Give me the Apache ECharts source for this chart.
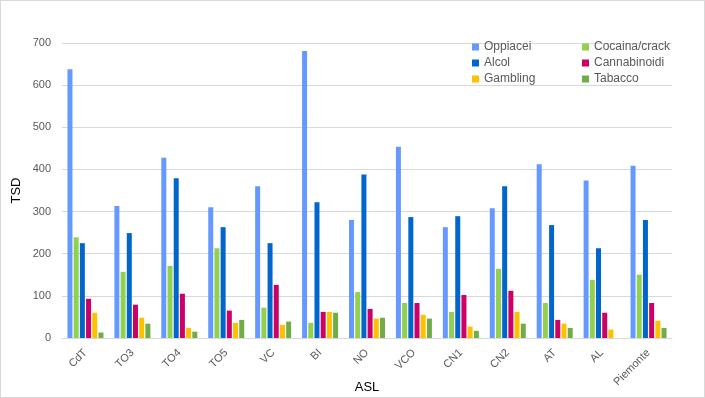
<!DOCTYPE html>
<html>
<head>
<meta charset="utf-8">
<script src="https://cdn.jsdelivr.net/npm/echarts@6/dist/echarts.min.js"></script>
<style>
  html, body { margin: 0; padding: 0; background: #fff; }
  #chart { width: 705px; height: 398px; box-sizing: border-box; border: 1px solid #d9d9d9; }
</style>
</head>
<body>
<div id="chart"></div>
<script>
// categorie (ASL)
const categories = ['CdT', 'TO3', 'TO4', 'TO5', 'VC', 'BI', 'NO', 'VCO', 'CN1', 'CN2', 'AT', 'AL', 'Piemonte']

// valori
const oppiacei     = [638, 313, 428, 310, 360, 681, 280, 454, 263, 308, 412, 374, 409]
const cocaina      = [239, 157, 171, 213, 72, 36, 109, 83, 62, 164, 83, 138, 150]
const alcol        = [225, 249, 379, 263, 225, 322, 388, 287, 289, 360, 268, 213, 280]
const cannabinoidi = [93, 79, 105, 65, 126, 62, 69, 83, 102, 112, 43, 60, 83]
const gambling     = [60, 48, 24, 36, 31, 62, 46, 55, 27, 62, 34, 20, 41]
const tabacco      = [13, 34, 15, 43, 39, 60, 48, 46, 17, 34, 24, 0, 24]

const seriesDefs = [
  { name: 'Oppiacei', data: oppiacei, color: '#6699ff' },
  { name: 'Cocaina/crack', data: cocaina, color: '#92d050' },
  { name: 'Alcol', data: alcol, color: '#0066cc' },
  { name: 'Cannabinoidi', data: cannabinoidi, color: '#cc0066' },
  { name: 'Gambling', data: gambling, color: '#ffc000' },
  { name: 'Tabacco', data: tabacco, color: '#70ad47' }
]

const font = 'Liberation Sans, Arial, sans-serif'
const legendBase = {
  orient: 'vertical',
  top: 35,
  itemWidth: 7,
  itemHeight: 7,
  itemGap: 4,
  icon: 'rect',
  textStyle: { color: '#595959', fontSize: 12, fontFamily: font }
}

const chart = echarts.init(document.getElementById('chart'))
chart.setOption({
  animation: false,
  grid: { left: 61, right: 32, top: 42, bottom: 59, outerBoundsMode: 'none' },
  legend: [
    Object.assign({ left: 466, data: ['Oppiacei', 'Alcol', 'Gambling'] }, legendBase),
    Object.assign({ left: 576, data: ['Cocaina/crack', 'Cannabinoidi', 'Tabacco'] }, legendBase)
  ],
  xAxis: {
    type: 'category',
    data: categories,
    name: 'ASL',
    nameLocation: 'middle',
    nameGap: 43,
    nameMoveOverlap: false,
    nameTextStyle: { color: '#000', fontSize: 13, fontFamily: font },
    axisLine: { lineStyle: { color: '#d9d9d9' } },
    axisTick: { show: false },
    axisLabel: { rotate: 45, color: '#595959', fontSize: 11, fontFamily: font, margin: 13 }
  },
  yAxis: {
    type: 'value',
    min: 0,
    max: 700,
    interval: 100,
    name: 'TSD',
    nameLocation: 'middle',
    nameGap: 39,
    nameMoveOverlap: false,
    nameTextStyle: { color: '#000', fontSize: 13, fontFamily: font },
    axisLabel: { color: '#595959', fontSize: 11, fontFamily: font, margin: 11 },
    splitLine: { lineStyle: { color: '#d9d9d9' } }
  },
  series: seriesDefs.map(s => ({
    type: 'bar',
    name: s.name,
    data: s.data,
    barWidth: 5,
    barGap: '24%',
    itemStyle: { color: s.color }
  }))
})
</script>
</body>
</html>
